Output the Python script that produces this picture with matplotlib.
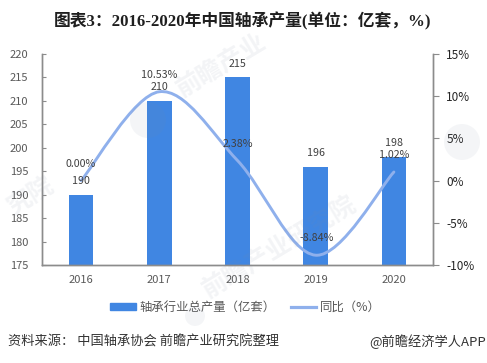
"""China bearing output 2016-2020: bars for output, smoothed line for yoy change."""
import matplotlib
matplotlib.use("Agg")
import matplotlib.pyplot as plt  # noqa: E402
import numpy as np  # noqa: E402
from matplotlib.path import Path  # noqa: E402
from matplotlib.patches import Circle, PathPatch, Patch  # noqa: E402
from matplotlib.lines import Line2D  # noqa: E402

CJK = "Noto Sans CJK SC"
plt.rcParams["font.family"] = [CJK, "DejaVu Sans"]
BLUE, LIGHT, GREY, TEXT = "#4086e2", "#8fb0ec", "#8c8c8c", "#404040"

years = ["2016", "2017", "2018", "2019", "2020"]
output = [190, 210, 215, 196, 198]
yoy = [0.00, 10.53, 2.38, -8.84, 1.02]
left_ticks = [175, 180, 185, 190, 195, 200, 205, 210, 215, 220]
right_ticks = [-10, -5, 0, 5, 10, 15]


def smooth_path(x, y):
    # office style smoothed line, one bezier per segment through the data points
    x, y = np.asarray(x, float), np.asarray(y, float)
    verts, codes = [(x[0], y[0])], [Path.MOVETO]
    for i in range(len(x) - 1):
        a, b = max(i - 1, 0), min(i + 2, len(x) - 1)
        verts.append((x[i] + (x[i + 1] - x[a]) / 6, y[i] + (y[i + 1] - y[a]) / 6))
        verts.append((x[i + 1] - (x[b] - x[i]) / 6, y[i + 1] - (y[b] - y[i]) / 6))
        verts.append((x[i + 1], y[i + 1]))
        codes += [Path.CURVE4] * 3
    return Path(verts, codes)


fig = plt.figure(figsize=(4.87, 3.63), dpi=100)
ax = fig.add_axes([42 / 487, 1 - 265 / 363, 391 / 487, 211 / 363])
xs = np.arange(len(years))
ax.bar(xs, output, width=0.315, color=BLUE, zorder=2)
ax.set_xlim(-0.5, 4.5)
ax.set_ylim(175, 220)
ax.set_yticks(left_ticks)
ax.set_xticks(xs)
ax.set_xticklabels(years)
ax.tick_params(axis="x", length=0, pad=7, labelsize=8, colors="#595959")
ax.tick_params(axis="y", direction="in", length=3, width=0.8, color=GREY,
               labelsize=8, labelcolor="#595959", pad=10)

ax2 = ax.twinx()
ax2.set_ylim(-10, 15)
ax2.set_yticks(right_ticks)
ax2.set_yticklabels([f"{v}%" for v in right_ticks])
ax2.tick_params(axis="y", direction="out", length=4, width=0.8, color=GREY,
                labelsize=8.5, labelcolor="#262626", pad=5.5)
ax2.add_patch(PathPatch(smooth_path(xs, yoy), fc="none", ec=LIGHT, lw=2.1,
                        capstyle="round", zorder=3))

for a in (ax, ax2):
    a.spines["top"].set_visible(False)
    for side in ("left", "right", "bottom"):
        a.spines[side].set_color(GREY)
        a.spines[side].set_linewidth(1.0)

for x, v in zip(xs, output):
    ax2.annotate(str(v), xy=(x, (v - 175) / 45 * 25 - 10), xytext=(0, 10),
                 textcoords="offset points", ha="center", va="center",
                 fontsize=7.7, color=TEXT, zorder=5)
for x, v in zip(xs, yoy):
    ax2.annotate(f"{v:.2f}%", xy=(x, v), xytext=(1 if v < 0 else 0, 12.2),
                 textcoords="offset points", ha="center", va="center",
                 fontsize=7.7, color=TEXT, zorder=5)

handles = [Patch(color=BLUE, label="轴承行业总产量（亿套）"),
           Line2D([], [], color=LIGHT, lw=2.3, label="同比（%）")]
fig.legend(handles=handles, loc="center", bbox_to_anchor=(245.5 / 487, 1 - 307 / 363),
           ncol=2, frameon=False, fontsize=8.9, labelcolor="#595959",
           handlelength=2.1, handleheight=0.5, handletextpad=0.3, columnspacing=1.2)

fig.text(243 / 487, 1 - 21 / 363, "图表3：2016-2020年中国轴承产量(单位：亿套，%)",
         ha="center", va="center", fontsize=12.1, fontweight="bold", color="#1f1f1f",
         family=["Liberation Serif", CJK])
fig.text(8 / 487, 1 - 342 / 363, "资料来源： 中国轴承协会 前瞻产业研究院整理",
         ha="left", va="center", fontsize=9.5, color="#333333")
fig.text(486 / 487, 1 - 342 / 363, "@前瞻经济学人APP", ha="right", va="center",
         fontsize=9.5, color="#333333")

# faint watermarks
WM = dict(rotation=31, ha="center", va="center", fontsize=18, fontweight="bold",
          color="#7f8aa0", alpha=0.09, zorder=10)
fig.text(280 / 487, 1 - 248 / 363, "前瞻产业研究院", **WM)
fig.text(222 / 487, 1 - 66 / 363, "前瞻产业", **WM)
fig.text(31 / 487, 1 - 197 / 363, "究院", **WM)
for cx, cy, r in [(148, 120, 0.18), (462, 142, 0.18), (195, 316, 0.1)]:
    fig.add_artist(Circle((cx / 100, 3.63 - cy / 100), r, transform=fig.dpi_scale_trans,
                          fc="#7f8aa0", ec="none", alpha=0.08, zorder=10))

fig.savefig("out.png", dpi=100)
